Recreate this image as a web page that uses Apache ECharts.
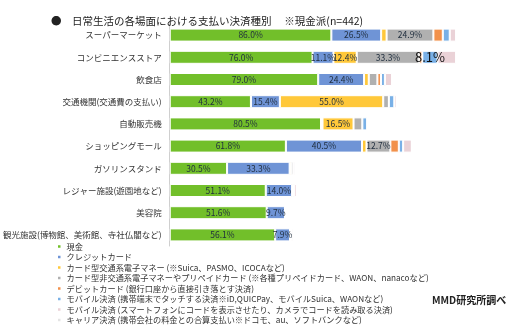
<!DOCTYPE html>
<html>
<head>
<meta charset="utf-8">
<script src="https://cdn.jsdelivr.net/npm/echarts@6/dist/echarts.min.js"></script>
<style>
html,body{margin:0;padding:0;background:#fff;}
#c{width:529px;height:331px;}
</style>
</head>
<body>
<div id="c"></div>
<script>
const categories = [
  'スーパーマーケット',
  'コンビニエンスストア',
  '飲食店',
  '交通機関(交通費の支払い)',
  '自動販売機',
  'ショッピングモール',
  'ガソリンスタンド',
  'レジャー施設(遊園地など)',
  '美容院',
  '観光施設(博物館、美術館、寺社仏閣など)'
];
const seriesNames = [
  '現金',
  'クレジットカード',
  'カード型交通系電子マネー (※Suica、PASMO、ICOCAなど)',
  'カード型非交通系電子マネーやプリペイドカード (※各種プリペイドカード、WAON、nanacoなど)',
  'デビットカード (銀行口座から直接引き落とす決済)',
  'モバイル決済 (携帯端末でタッチする決済※iD,QUICPay、モバイルSuica、WAONなど)',
  'モバイル決済 (スマートフォンにコードを表示させたり、カメラでコードを読み取る決済)',
  'キャリア決済 (携帯会社の料金との合算支払い※ドコモ、au、ソフトバンクなど)'
];
const cash        = [86.0, 76.0, 79.0, 43.2, 80.5, 61.8, 30.5, 51.1, 51.6, 56.1];
const credit      = [26.5, 11.1, 24.4, 15.4, 0.8, 40.5, 33.3, 14.0, 9.7, 7.9];
const transitIC   = [2.9, 12.4, 2.5, 55.0, 16.5, 2.4, 0.8, 0.6, 0, 0];
const prepaid     = [24.9, 33.3, 4.6, 3.0, 4.7, 12.7, 1.2, 0.6, 0.4, 0.5];
const debit       = [5.0, 1.6, 1.9, 0, 0, 4.5, 0, 0, 0, 0];
const mobileTouch = [3.7, 8.1, 2.1, 2.9, 2.6, 2.3, 0, 0, 0, 0];
const mobileCode  = [3.4, 9.9, 3.8, 1.3, 0, 4.6, 1.0, 1.4, 0.5, 1.2];
const carrier     = [0, 0, 0, 0, 0, 0, 0, 0, 0, 0];

const values = [cash, credit, transitIC, prepaid, debit, mobileTouch, mobileCode, carrier];
const colors = ['#72BF2A', '#6F94D6', '#FFC83A', '#B0B0B0', '#F2914B', '#79B0E6', '#EAD2D7', '#E4E4E4'];
const FONT = '"Noto Sans CJK JP", "Noto Sans", sans-serif';

const series = values.map((arr, i) => ({
  name: seriesNames[i],
  type: 'bar',
  stack: 'total',
  barWidth: 13,
  data: arr,
  itemStyle: { color: colors[i], borderColor: '#ffffff', borderWidth: 1 },
  label: {
    show: i < 6,
    position: 'inside',
    fontFamily: FONT,
    fontSize: i === 5 ? 13 : 8.5,
    color: i === 5 ? '#111' : '#1f2d3d',
    formatter: p => (p.value >= 7 ? p.value.toFixed(1) + '%' : '')
  },
  emphasis: { disabled: true }
}));

const chart = echarts.init(document.getElementById('c'), null, { renderer: 'canvas' });
chart.setOption({
  animation: false,
  backgroundColor: '#ffffff',
  color: colors,
  title: {
    text: '●\u3000日常生活の各場面における支払い決済種別\u3000 ※現金派(n=442)',
    left: 46,
    top: 11,
    textStyle: { fontFamily: FONT, fontSize: 10.5, fontWeight: 'normal', color: '#222' }
  },
  grid: { left: 165, right: 21, top: 24, bottom: 85 },
  xAxis: { type: 'value', min: 0, max: 180, show: false },
  yAxis: {
    type: 'category',
    data: categories,
    inverse: true,
    axisLine: { show: true, lineStyle: { color: '#cfcfcf', width: 1 } },
    axisTick: { show: false },
    axisLabel: { fontFamily: FONT, fontSize: 8.5, color: '#333', margin: 8 }
  },
  legend: {
    orient: 'vertical',
    left: 56,
    top: 242,
    height: 120,
    padding: 0,
    icon: 'rect',
    itemWidth: 4.5,
    itemHeight: 4.5,
    itemGap: 1.5,
    selectedMode: false,
    textStyle: { fontFamily: FONT, fontSize: 8.2, lineHeight: 9, color: '#333' },
    data: seriesNames
  },
  graphic: [{
    type: 'text',
    left: 432,
    top: 295,
    style: { text: 'MMD研究所調べ', font: 'bold 10px ' + FONT, fill: '#222' }
  }],
  series: series
});
</script>
</body>
</html>
